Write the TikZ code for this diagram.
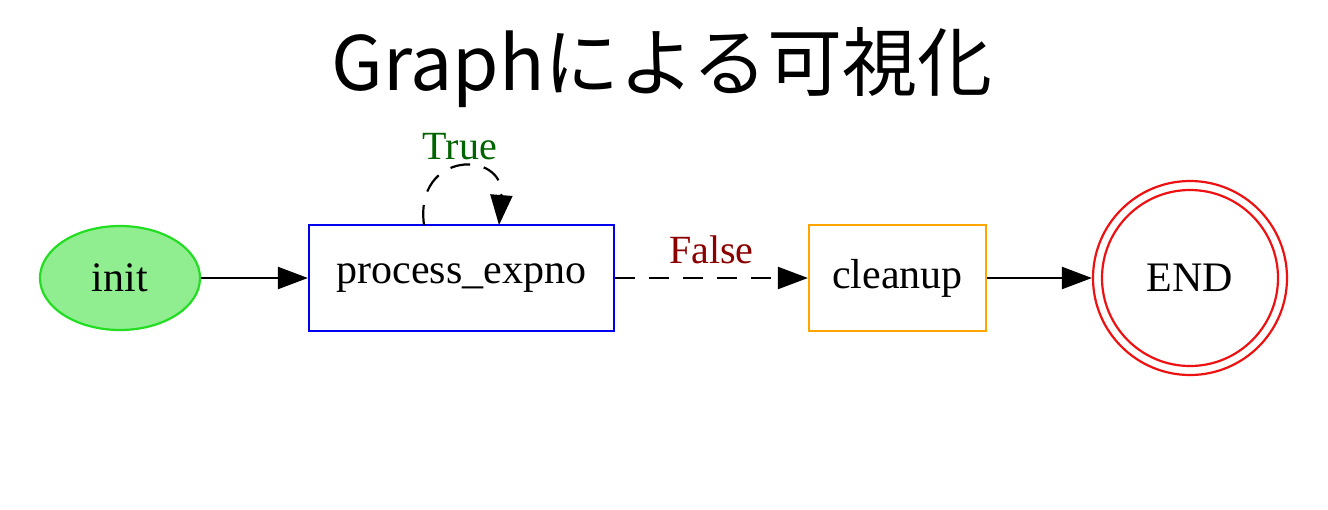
\documentclass[tikz,border=0pt]{standalone}
\usepackage{fontspec}
\setmainfont{Liberation Serif}
\newfontfamily\cjk{Noto Sans CJK JP}
\usetikzlibrary{arrows.meta,shapes.geometric,calc}
\definecolor{initfill}{HTML}{90EE90}
\definecolor{initdraw}{HTML}{22DD22}
\definecolor{procblue}{HTML}{0000EE}
\definecolor{cleanorange}{HTML}{FFA500}
\definecolor{endred}{HTML}{EE1111}
\definecolor{truegreen}{HTML}{006400}
\definecolor{falsered}{HTML}{8B0000}
\tikzset{
  lbl/.style={font=\fontsize{21}{24}\selectfont, text=black},
  edgelbl/.style={font=\fontsize{20}{24}\selectfont},
  conn/.style={line width=1.1pt, draw=black, -{Triangle[length=15pt,width=11pt]}},
  box/.style={draw, line width=1.1pt, rectangle, inner sep=0pt, lbl},
}
\begin{document}
\begin{tikzpicture}[x=0.5pt,y=-0.5pt]
\fill[white] (0,0) rectangle (1328,509);
\useasboundingbox (0,0) rectangle (1328,509);
\node[font=\cjk\fontsize{37.5}{42}\selectfont] (title) at (662,68) {Graphによる可視化};
\node[ellipse, draw=initdraw, fill=initfill, line width=1.1pt, minimum width=80pt, minimum height=52pt, inner sep=0pt, lbl] (init) at (120,278) {init};
\node[box, draw=procblue, minimum width=152.5pt, minimum height=53pt] (proc) at (461.5,278) {process\_expno};
\node[box, draw=cleanorange, minimum width=88.5pt, minimum height=53pt] (clean) at (897.5,278) {cleanup};
\node[circle, draw=endred, line width=1.1pt, minimum size=88pt, inner sep=0pt, lbl] (endi) at (1190,278) {END};
\node[circle, draw=endred, line width=1.1pt, minimum size=97pt, inner sep=0pt] (endo) at (1190,278) {};
\draw[conn] (init.east) -- (proc.west);
\draw[conn, dashed, dash pattern=on 10pt off 7pt] (proc.east) -- node[edgelbl, text=falsered, above=3pt] (falsel) {False} (clean.west);
\draw[conn] (clean.east) -- (endo.west);
\coordinate (ls) at (424,225);
\coordinate (le) at (499,225);
\draw[conn, dashed, dash pattern=on 10pt off 7pt] (ls) .. controls (414,150) and (505,150) .. (le);
\node[edgelbl, text=truegreen] (truel) at (460,147) {True};
\end{tikzpicture}
\end{document}
